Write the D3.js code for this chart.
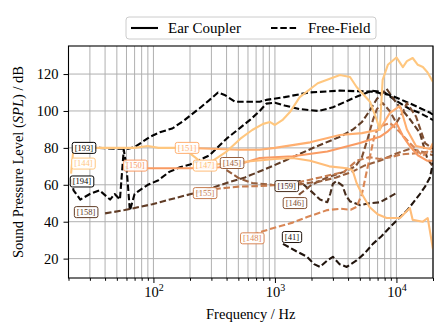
<!DOCTYPE html>
<html>
<head>
<meta charset="utf-8">
<script src="https://cdn.jsdelivr.net/npm/d3@7"></script>
<style>
  body { margin: 0; background: #fff; }
  svg text { font-family: "Liberation Serif", "DejaVu Serif", serif; }
</style>
</head>
<body>
<div id="chart"></div>
<script>
// chart data: [frequency Hz, level dB]
var seriesNames = ["193", "194", "41", "159", "158", "146", "145", "155", "148", "150", "151", "147", "144"];
var seriesKind = ["Free-Field", "Free-Field", "Free-Field", "Free-Field", "Free-Field", "Free-Field", "Free-Field",
  "Free-Field", "Free-Field", "Ear Coupler", "Ear Coupler", "Ear Coupler", "Ear Coupler"];

var s193 = [[25,80],[35,80],[50,79.5],[62,79.5],[70,80.5],[78,82.5],[94,86],[113,88.5],[143,90.5],[180,95],[240,101.5],
  [290,106],[340,110],[390,108.5],[470,105],[620,105],[750,105],[850,106],[1200,107.5],[1900,110],[3400,111],
  [6300,110.5],[9000,108.5],[13000,104],[19000,99],[20000,98]];
var s194 = [[21,63],[22,57],[25,52],[30,55],[36,57],[44,52],[48,55],[53,52],[57,79],[60,70],[64,46],[70,55],[77,57],
  [90,60],[110,62.5],[135,67],[165,69.5],[200,71],[290,76],[400,85],[520,91],[620,95],[750,100],[850,104],[1000,104.5],
  [1200,103],[1600,101],[2300,100],[3000,102],[3800,105],[4800,108],[6300,111],[8000,110],[9700,106],[12900,101],
  [15500,99],[18900,96],[20000,95]];
var s41 = [[1165,28],[1500,24],[1840,21],[2100,17],[2350,15.5],[2700,19],[3000,21],[3400,17],[3900,15.5],[4700,19],
  [5500,23],[6400,28],[7500,32],[8850,37],[10500,42],[12200,46],[14000,51],[15600,55],[17200,59],[18900,64],[20000,72]];
var s159 = [[1250,60],[1600,62],[1950,57],[2350,52],[2700,50.6],[2850,55],[3000,60.5],[3200,62],[3600,59.5],[3850,54],
  [4150,51],[5000,49],[6000,50],[7300,50.5],[10000,55.5]];
var s158 = [[40,44.5],[58,46.3],[98,49.5],[113,50.6],[266,57],[400,61],[567,64],[800,68],[1240,73.4],[2140,80.5],
  [3430,86],[4400,90],[5200,94],[6000,100],[6900,106.5],[8300,112],[10000,104.3],[12900,95.6],[15600,88],[18000,74],
  [20000,70]];
var s146 = [[1460,50],[1600,55],[2000,60],[2700,64],[3700,67],[4600,70],[5200,75],[5800,85],[6400,95],[6900,101],
  [7700,104.3],[8800,100],[10000,93.5],[11200,99],[12200,104.3],[14500,97],[17200,82.6],[20000,79.5]];
var s145 = [[400,68],[500,63.7],[650,61],[950,60],[1250,59.5],[1700,60.5],[2400,62],[3200,64],[4300,67],[5500,70.5],
  [7300,73],[10000,77],[13000,79.5],[16000,78],[20000,76]];
var s155 = [[266,57],[350,58],[500,59],[750,59.3],[1100,60],[1600,61.5],[2350,64],[3700,67],[4700,73],[6000,75],
  [7300,74],[9000,75],[11000,76.5],[14000,77],[20000,78]];
var s148 = [[650,33],[960,36.5],[1400,39.5],[1840,42.5],[2700,46.3],[3500,47],[4200,46.5],[4700,48],[5200,55],
  [5600,65],[6000,74],[6660,88],[7600,92],[8850,93.5],[10500,89],[12900,82.6],[16500,75.6],[20000,81]];
var s150 = [[71,69],[120,69],[200,69],[350,69.5],[500,71],[750,74.5],[1400,75.5],[2700,78],[5000,82.6],[7300,86],
  [8500,89],[10000,93.5],[11300,86.4],[12900,81],[15000,76],[18000,73],[20000,73]];
var s151 = [[190,80],[300,79.5],[500,79],[750,79],[1000,80],[1950,83],[3430,87],[5200,88],[7300,90],[8850,99],
  [10700,102.7],[12200,90],[14500,81],[18900,79.4],[20000,82.7]];
var s147 = [[266,70.5],[400,71.5],[567,72.5],[1000,74],[1400,74.5],[1950,73],[2800,70],[3900,69],[4350,68],[4700,61],
  [5200,55],[6000,48],[7000,44],[8300,42],[10700,42],[12900,47.4],[13600,41],[16500,40],[18100,42],[20000,25]];
var s144 = [[21,66],[22,80],[30,80],[50,80],[70,80],[90,81],[110,80],[170,80],[200,77],[240,73],[270,71],[292,72],
  [400,78],[520,85],[650,89.7],[800,93],[912,94],[1000,92.4],[1150,95],[1330,99.4],[1600,107.5],[2250,115],[3430,119.5],
  [4150,118.4],[4700,113],[6060,105],[6900,95],[7300,89.7],[7700,116.8],[8500,125],[10000,129],[11300,123.8],
  [12200,127],[13600,128.7],[15000,125],[16500,123.8],[18000,121],[20000,115.7]];

var seriesValues = [s193, s194, s41, s159, s158, s146, s145, s155, s148, s150, s151, s147, s144];
// where each id box sits: [frequency Hz, level dB]
var labelAt = [[26.8,80],[25.8,61.8],[1380,31.7],[1250,59.3],[27.9,45.2],[1460,50.1],[443,71.8],[266,55.5],
  [650,31],[71,70.4],[189,80],[266,70.4],[26.5,71.5]];
// position of each series on the copper colour map
var colourAt = [0, 0.02, 0.1, 0.22, 0.3, 0.4, 0.47, 0.62, 0.68, 0.78, 0.88, 0.95, 1.0];

var yTicks = [20, 40, 60, 80, 100, 120];
var xMajor = [100, 1000, 10000];
var legendNames = ["Ear Coupler", "Free-Field"];

var svgWidth = 448;
var svgHeight = 336;
var margin = { top: 46, right: 15, bottom: 58, left: 68.5 };
var width = svgWidth - margin.left - margin.right;
var height = svgHeight - margin.top - margin.bottom;

function copper(t) {
  return d3.rgb(Math.min(1, 1.25 * t) * 255, 0.7812 * t * 255, 0.4975 * t * 255).formatHex();
}

var svg = d3.select("#chart")
  .append("svg")
  .attr("width", svgWidth)
  .attr("height", svgHeight);

var chartGroup = svg.append("g")
  .attr("transform", `translate(${margin.left}, ${margin.top})`);

var xScale = d3.scaleLog().domain([20, 20000]).range([0, width]);
var yScale = d3.scaleLinear().domain([9.5, 135.2]).range([height, 0]);

// all decade ticks 20..20000 for the grid and minor ticks
var xAll = [];
[10, 100, 1000, 10000].forEach(function(dec) {
  for (var k = 1; k < 10; k++) {
    var v = dec * k;
    if (v >= 20 && v <= 20000) xAll.push(v);
  }
});
xAll.push(20000);
var xMinor = xAll.filter(v => xMajor.indexOf(v) < 0);

// grid
chartGroup.append("g")
  .selectAll("line.vg")
  .data(xAll)
  .enter()
  .append("line")
  .attr("x1", d => xScale(d)).attr("x2", d => xScale(d))
  .attr("y1", 0).attr("y2", height)
  .attr("stroke", "#b0b0b0")
  .attr("stroke-width", 1);

chartGroup.append("g")
  .selectAll("line.hg")
  .data(yTicks)
  .enter()
  .append("line")
  .attr("x1", 0).attr("x2", width)
  .attr("y1", d => yScale(d)).attr("y2", d => yScale(d))
  .attr("stroke", "#b0b0b0")
  .attr("stroke-width", 1);

// curves
chartGroup.append("clipPath").attr("id", "plotclip")
  .append("rect").attr("width", width).attr("height", height);

var line = d3.line()
  .x(d => xScale(d[0]))
  .y(d => yScale(d[1]));

var curves = chartGroup.append("g").attr("clip-path", "url(#plotclip)");
seriesValues.forEach(function(values, i) {
  curves.append("path")
    .datum(values)
    .attr("d", line)
    .attr("fill", "none")
    .attr("stroke", copper(colourAt[i]))
    .attr("stroke-width", 2.1)
    .attr("stroke-linejoin", "round")
    .attr("stroke-dasharray", seriesKind[i] === "Free-Field" ? "6.5,2.8" : null);
});

// id boxes
seriesNames.forEach(function(name, i) {
  var c = copper(colourAt[i]);
  var px = xScale(labelAt[i][0]);
  var py = yScale(labelAt[i][1]);
  var g = chartGroup.append("g").attr("transform", `translate(${px}, ${py})`);
  var txt = g.append("text")
    .attr("text-anchor", "middle")
    .attr("dy", "0.33em")
    .attr("font-size", 8.5)
    .attr("fill", c)
    .text("[" + name + "]");
  var bb = txt.node().getBBox();
  g.insert("rect", "text")
    .attr("x", bb.x - 2.5).attr("y", -5.5)
    .attr("width", bb.width + 5).attr("height", 11)
    .attr("rx", 2)
    .attr("fill", "white")
    .attr("fill-opacity", 0.9)
    .attr("stroke", c)
    .attr("stroke-width", 1);
});

// frame
chartGroup.append("rect")
  .attr("width", width).attr("height", height)
  .attr("fill", "none")
  .attr("stroke", "black")
  .attr("stroke-width", 1.1);

// axes
var bottomAxis = d3.axisBottom(xScale)
  .tickValues(xMajor)
  .tickSize(5)
  .tickPadding(4)
  .tickFormat("");
var xAxis = chartGroup.append("g")
  .attr("transform", `translate(0, ${height})`)
  .call(bottomAxis);
xAxis.selectAll("text").remove();
xAxis.selectAll(".tick")
  .append("text")
  .attr("y", 19)
  .attr("text-anchor", "middle")
  .attr("fill", "black")
  .attr("font-size", 14.5)
  .each(function(d) {
    var t = d3.select(this);
    t.append("tspan").text("10");
    t.append("tspan").attr("dy", -6).attr("font-size", 10).text(Math.round(Math.log10(d)));
  });

var minorAxis = d3.axisBottom(xScale)
  .tickValues(xMinor)
  .tickSize(2.8)
  .tickFormat("");
chartGroup.append("g")
  .attr("transform", `translate(0, ${height})`)
  .call(minorAxis);

var leftAxis = d3.axisLeft(yScale)
  .tickValues(yTicks)
  .tickSize(5)
  .tickPadding(5);
var yAxis = chartGroup.append("g").call(leftAxis);
yAxis.selectAll("text").attr("font-size", 14.5).attr("font-family", "Liberation Serif");

chartGroup.selectAll(".domain").remove();
chartGroup.selectAll(".tick line").attr("stroke", "black").attr("stroke-width", 1);

// axis titles
chartGroup.append("text")
  .attr("x", width / 2)
  .attr("y", height + 41)
  .attr("text-anchor", "middle")
  .attr("font-size", 14.5)
  .text("Frequency / Hz");

var yTitle = svg.append("text")
  .attr("transform", `translate(23, ${margin.top + height / 2}) rotate(-90)`)
  .attr("text-anchor", "middle")
  .attr("font-size", 14.5);
yTitle.append("tspan").text("Sound Pressure Level (");
yTitle.append("tspan").attr("font-style", "italic").text("SPL");
yTitle.append("tspan").text(") / dB");

// legend
var legend = svg.append("g").attr("transform", "translate(126, 17)");
legend.append("rect")
  .attr("width", 250).attr("height", 22)
  .attr("rx", 3)
  .attr("fill", "white")
  .attr("stroke", "#cccccc")
  .attr("stroke-width", 1);
var legendX = [5, 145];
legendNames.forEach(function(name, i) {
  legend.append("line")
    .attr("x1", legendX[i]).attr("x2", legendX[i] + 27)
    .attr("y1", 11).attr("y2", 11)
    .attr("stroke", "black")
    .attr("stroke-width", 2.1)
    .attr("stroke-dasharray", name === "Free-Field" ? "6.5,2.8" : null);
  legend.append("text")
    .attr("x", legendX[i] + 37)
    .attr("y", 15.5)
    .attr("font-size", 15)
    .text(name);
});
</script>
</body>
</html>
